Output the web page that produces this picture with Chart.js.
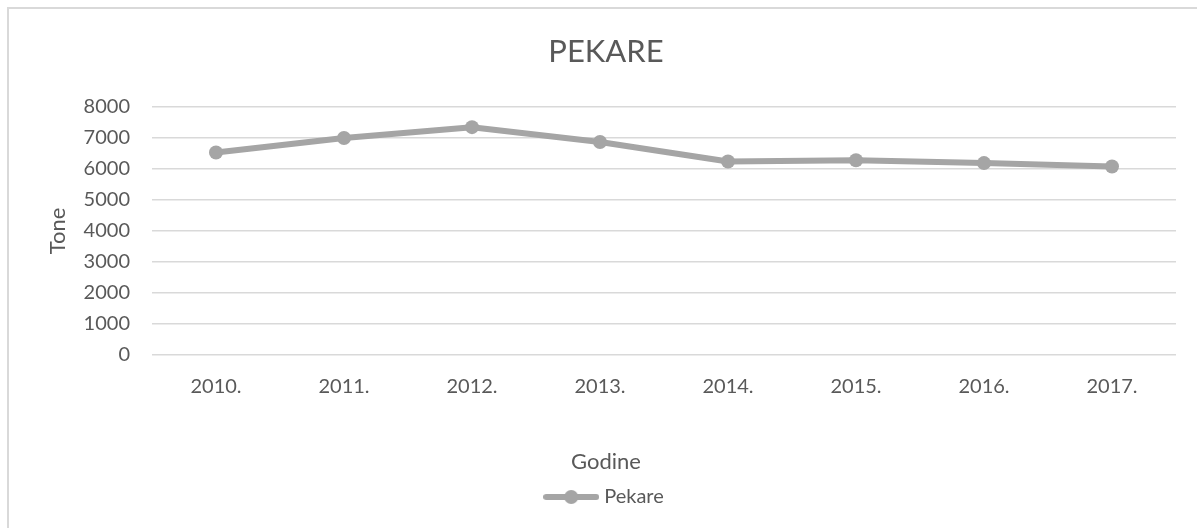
<!DOCTYPE html>
<html>
<head>
<meta charset="utf-8">
<script src="https://cdn.jsdelivr.net/npm/chart.js@4"></script>
<style>
  html, body { margin: 0; padding: 0; background: #fff; overflow: hidden; }
  #wrap { position: relative; width: 1197px; height: 528px; }
  #frame { position: absolute; left: 7px; top: 7px; width: 1300px; height: 700px; border: 2px solid #d9d9d9; box-sizing: border-box; pointer-events: none; }
  canvas { position: absolute; left: 0; top: 0; }
</style>
</head>
<body>
<div id="wrap">
  <div id="frame"></div>
  <canvas id="c"></canvas>
</div>
<script>
const categories = ['2010.', '2011.', '2012.', '2013.', '2014.', '2015.', '2016.', '2017.'];
const pekareValues = [6530, 7000, 7350, 6870, 6240, 6280, 6190, 6080];
const seriesName = 'Pekare';
const chartTitle = 'PEKARE';
const yAxisTitle = 'Tone';
const xAxisTitle = 'Godine';
const yMin = 0, yMax = 8000, yStep = 1000;

const GREY = '#a5a5a5';
const TEXT = '#595959';

Chart.defaults.font.family = 'Lato';
Chart.defaults.color = TEXT;

// legend marker: line with circle
const mk = document.createElement('canvas');
mk.width = 56; mk.height = 16;
(function () {
  const g = mk.getContext('2d');
  g.strokeStyle = GREY; g.lineWidth = 6; g.lineCap = 'round';
  g.beginPath(); g.moveTo(3, 8); g.lineTo(53, 8); g.stroke();
  g.fillStyle = GREY; g.beginPath(); g.arc(28, 8, 7, 0, Math.PI * 2); g.fill();
})();

new Chart(document.getElementById('c'), {
  type: 'line',
  data: {
    labels: categories,
    datasets: [{
      label: seriesName,
      data: pekareValues,
      borderColor: GREY,
      backgroundColor: GREY,
      borderWidth: 6,
      borderJoinStyle: 'round',
      borderCapStyle: 'round',
      pointRadius: 7,
      pointHoverRadius: 7,
      pointBackgroundColor: GREY,
      pointBorderWidth: 0,
      tension: 0,
      fill: false
    }]
  },
  options: {
    responsive: true,
    maintainAspectRatio: false,
    animation: false,
    layout: { padding: { left: 36, right: 21, top: 0, bottom: 11 } },
    plugins: {
      tooltip: { enabled: false },
      title: {
        display: true,
        text: chartTitle,
        color: TEXT,
        font: { size: 31, weight: 'normal', lineHeight: 1.2 },
        padding: { top: 33.4, bottom: 36.4 }
      },
      subtitle: {
        display: true,
        text: xAxisTitle,
        position: 'bottom',
        weight: 500,
        color: TEXT,
        font: { size: 22, weight: 'normal', lineHeight: 1.2 },
        padding: { top: 33.8, bottom: 1.8 }
      },
      legend: {
        display: true,
        position: 'bottom',
        weight: 1000,
        labels: {
          color: TEXT,
          font: { size: 20 },
          usePointStyle: true,
          pointStyle: mk,
          pointStyleWidth: 46,
          boxHeight: 14,
          padding: 10
        }
      }
    },
    scales: {
      x: {
        offset: true,
        grid: { display: false, drawTicks: false },
        border: { display: false },
        ticks: { color: TEXT, font: { size: 20, lineHeight: 1.2 }, padding: 19.5, maxRotation: 0 },
        afterFit: (s) => { s.height = 60; }
      },
      y: {
        min: yMin, max: yMax,
        grid: { color: '#d9d9d9', lineWidth: 1.5, drawTicks: false },
        border: { display: false },
        ticks: { stepSize: yStep, color: TEXT, font: { size: 20 }, padding: 22, callback: (v) => String(v) },
        title: {
          display: true,
          text: yAxisTitle,
          color: TEXT,
          font: { size: 22, lineHeight: 1.2 },
          padding: { top: 9, bottom: 0 }
        },
        afterFit: (s) => { s.width = 116; }
      }
    }
  }
});
</script>
</body>
</html>
